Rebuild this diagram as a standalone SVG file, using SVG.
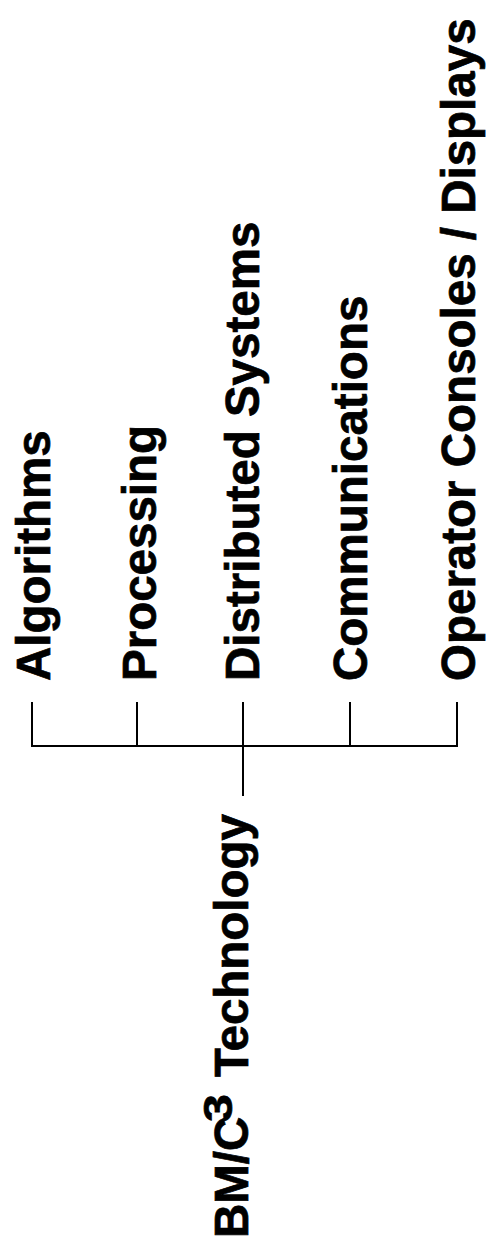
<svg xmlns="http://www.w3.org/2000/svg" width="490" height="1247" viewBox="0 0 490 1247">
<style>
.lbl{font-family:"Liberation Sans",Arial,Helvetica,sans-serif;font-weight:bold;font-size:47.5px;fill:#000;stroke:#000;stroke-width:0.7}
.ln{stroke:#000;stroke-width:2;fill:none;stroke-linecap:square}
</style>
<rect width="490" height="1247" fill="#fff"/>
<g id="connectors">
<path class="ln" d="M32,703 V746 H457 V703"/>
<path class="ln" d="M137,703 V746"/>
<path class="ln" d="M243,703 V795"/>
<path class="ln" d="M350,703 V746"/>
</g>
<g id="node-root"><text class="lbl" transform="translate(248,1238) rotate(-90)">BM/C<tspan x="116" dy="-16" font-size="40" textLength="28" lengthAdjust="spacingAndGlyphs">3</tspan><tspan x="161" dy="16">Technology</tspan></text></g>
<g id="node-algorithms"><text class="lbl" transform="translate(50,681) rotate(-90)">Algorithms</text></g>
<g id="node-processing"><text class="lbl" transform="translate(156,681) rotate(-90)">Processing</text></g>
<g id="node-distributed"><text class="lbl" transform="translate(259,681) rotate(-90)">Distributed Systems</text></g>
<g id="node-communications"><text class="lbl" transform="translate(367,681) rotate(-90)">Communications</text></g>
<g id="node-operator"><text class="lbl" transform="translate(475,681) rotate(-90)">Operator Consoles / Displays</text></g>
</svg>
